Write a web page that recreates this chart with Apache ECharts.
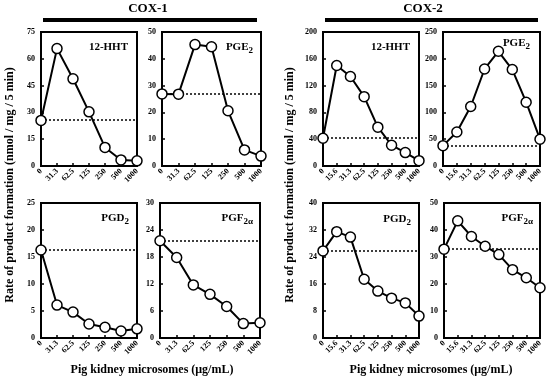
<!DOCTYPE html>
<html><head><meta charset="utf-8">
<script src="https://cdn.jsdelivr.net/npm/echarts@6/dist/echarts.min.js"></script>
<style>html,body{margin:0;padding:0;background:#fff}#c{width:550px;height:381px}</style>
</head><body><div id="c"></div>
<script>
const categoriesCOX1 = ['0','31.3','62.5','125','250','500','1000'];
const categoriesCOX2 = ['0','15.6','31.3','62.5','125','250','500','1000'];

const cox1_12HHT = [25.5, 65.7, 48.8, 30.3, 10.4, 3.4, 2.9];
const cox1_PGE2  = [26.9, 26.8, 45.3, 44.5, 20.6, 6.0, 3.7];
const cox1_PGD2  = [16.3, 6.1, 4.8, 2.6, 2.0, 1.3, 1.7];
const cox1_PGF2a = [21.6, 17.9, 11.8, 9.7, 7.0, 3.2, 3.4];

const cox2_12HHT = [41.5, 150, 133.5, 103.5, 58, 31, 20, 8];
const cox2_PGE2  = [38, 63.5, 111, 181, 214, 180, 119, 50];
const cox2_PGD2  = [25.8, 31.5, 29.9, 17.4, 13.9, 11.8, 10.4, 6.5];
const cox2_PGF2a = [32.9, 43.4, 37.6, 34, 30.9, 25.3, 22.3, 18.6];

const baselines = {
  cox1_12HHT: 25.7, cox1_PGE2: 26.9, cox1_PGD2: 16.3, cox1_PGF2a: 21.6,
  cox2_12HHT: 42, cox2_PGE2: 37.5, cox2_PGD2: 25.8, cox2_PGF2a: 32.9
};

const yMax = [75, 50, 25, 30, 200, 250, 40, 50];
const yInterval = [15, 10, 5, 6, 40, 50, 8, 10];

const FONT = 'Liberation Serif';

const panels = [
  {key:'cox1_12HHT', data:cox1_12HHT, cats:categoriesCOX1, grid:{left:41, top:32, width:96, height:134}, label:'{a|12-HHT}', lx:128, ly:40},
  {key:'cox1_PGE2',  data:cox1_PGE2,  cats:categoriesCOX1, grid:{left:162, top:32, width:99, height:134}, label:'{a|PGE}{b|2}', lx:253, ly:40},
  {key:'cox1_PGD2',  data:cox1_PGD2,  cats:categoriesCOX1, grid:{left:41, top:203, width:96, height:135}, label:'{a|PGD}{b|2}', lx:129, ly:211},
  {key:'cox1_PGF2a', data:cox1_PGF2a, cats:categoriesCOX1, grid:{left:160, top:203, width:100, height:135}, label:'{a|PGF}{b|2α}', lx:253, ly:211},
  {key:'cox2_12HHT', data:cox2_12HHT, cats:categoriesCOX2, grid:{left:323, top:32, width:96, height:134}, label:'{a|12-HHT}', lx:410, ly:40},
  {key:'cox2_PGE2',  data:cox2_PGE2,  cats:categoriesCOX2, grid:{left:443, top:32, width:97, height:134}, label:'{a|PGE}{b|2}', lx:530, ly:36},
  {key:'cox2_PGD2',  data:cox2_PGD2,  cats:categoriesCOX2, grid:{left:323, top:203, width:96, height:135}, label:'{a|PGD}{b|2}', lx:411, ly:212},
  {key:'cox2_PGF2a', data:cox2_PGF2a, cats:categoriesCOX2, grid:{left:444, top:203, width:96, height:135}, label:'{a|PGF}{b|2α}', lx:533, ly:211}
];

const rich = {
  a:{fontFamily:FONT, fontWeight:'bold', fontSize:11, fill:'#000', color:'#000', lineHeight:14},
  b:{fontFamily:FONT, fontWeight:'bold', fontSize:9, fill:'#000', color:'#000', lineHeight:14, padding:[7,0,0,0]}
};

const grids = [], xAxes = [], yAxes = [], series = [], graphics = [];
panels.forEach((p, i) => {
  grids.push(Object.assign({show:true, borderColor:'#000', borderWidth:2, backgroundColor:'transparent'}, p.grid));
  xAxes.push({
    type:'category', gridIndex:i, data:p.cats, boundaryGap:false,
    axisLine:{lineStyle:{color:'#000', width:2}},
    axisTick:{inside:true, length:3, lineStyle:{color:'#000', width:1.5}},
    axisLabel:{rotate:45, fontFamily:FONT, fontWeight:'bold', fontSize:8, color:'#000', margin:4, interval:0},
    splitLine:{show:false}
  });
  yAxes.push({
    type:'value', gridIndex:i, min:0, max:yMax[i], interval:yInterval[i],
    axisLine:{show:true, lineStyle:{color:'#000', width:2}},
    axisTick:{show:true, inside:true, length:3, lineStyle:{color:'#000', width:1.5}},
    axisLabel:{fontFamily:FONT, fontWeight:'bold', fontSize:8, color:'#000', margin:6},
    splitLine:{show:false}
  });
  series.push({
    type:'line', xAxisIndex:i, yAxisIndex:i, data:p.data,
    symbol:'circle', symbolSize:10, showAllSymbol:true,
    lineStyle:{color:'#000', width:2},
    itemStyle:{color:'#fff', borderColor:'#000', borderWidth:1.5},
    z:3, animation:false,
    markLine:{
      silent:true, symbol:'none', animation:false,
      label:{show:false},
      lineStyle:{color:'#000', type:[2,2], width:1.5},
      data:[{yAxis:baselines[p.key]}],
      z:2
    }
  });
  graphics.push({type:'text', x:p.lx, y:p.ly, z:10,
    style:{text:p.label, align:'right', verticalAlign:'top', rich:rich}});
});

const titleFont = 'bold 13px "Liberation Serif"';
const axisFont = 'bold 12px "Liberation Serif"';
graphics.push(
  {type:'text', x:148, y:9, style:{text:'COX-1', font:titleFont, fill:'#000', align:'center', verticalAlign:'middle'}},
  {type:'text', x:423, y:9, style:{text:'COX-2', font:titleFont, fill:'#000', align:'center', verticalAlign:'middle'}},
  {type:'rect', shape:{x:43, y:18, width:214, height:4}, style:{fill:'#000'}},
  {type:'rect', shape:{x:325, y:18, width:213, height:4}, style:{fill:'#000'}},
  {type:'text', x:10, y:185, rotation:Math.PI/2, style:{text:'Rate of product formation (nmol / mg / 5 min)', font:axisFont, fill:'#000', align:'center', verticalAlign:'middle'}},
  {type:'text', x:290, y:185, rotation:Math.PI/2, style:{text:'Rate of product formation (nmol / mg / 5 min)', font:axisFont, fill:'#000', align:'center', verticalAlign:'middle'}},
  {type:'text', x:152, y:370, style:{text:'Pig kidney microsomes (μg/mL)', font:axisFont, fill:'#000', align:'center', verticalAlign:'middle'}},
  {type:'text', x:431, y:370, style:{text:'Pig kidney microsomes (μg/mL)', font:axisFont, fill:'#000', align:'center', verticalAlign:'middle'}}
);

const chart = echarts.init(document.getElementById('c'), null, {renderer:'canvas'});
chart.setOption({
  animation:false,
  grid:grids, xAxis:xAxes, yAxis:yAxes, series:series,
  graphic:graphics
});
</script></body></html>
